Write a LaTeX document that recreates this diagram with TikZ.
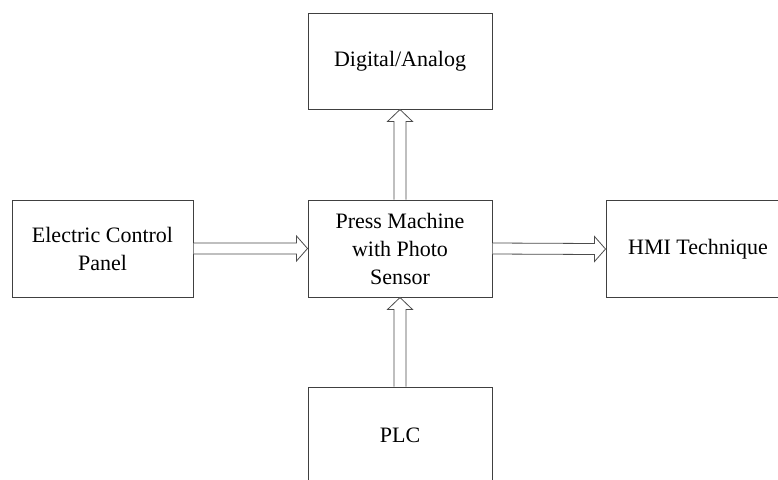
\documentclass[tikz,border=0pt]{standalone}
\usepackage{fontspec}
\setmainfont{Liberation Serif}
\usetikzlibrary{calc}
\tikzset{
  block/.style={draw=black!75, line width=1pt, fill=white, minimum width=184pt,
    minimum height=97pt, align=center, inner sep=0pt,
    font=\fontsize{22}{28}\selectfont},
  hollowarrow/.style={draw=black!70, line width=0.8pt, fill=white, line join=miter},
}
\newcommand{\rightconn}[2]{%
  \draw[hollowarrow] ($(#1.east)+(0,-5.5)$) -- ($(#2.west)+(-11,-5.5)$)
    -- ($(#2.west)+(-11,-12.5)$) -- (#2.west) -- ($(#2.west)+(-11,12.5)$)
    -- ($(#2.west)+(-11,5.5)$) -- ($(#1.east)+(0,5.5)$);}
\newcommand{\upconn}[2]{%
  \draw[hollowarrow] ($(#1.north)+(-6,0)$) -- ($(#2.south)+(-6,12)$)
    -- ($(#2.south)+(-12.5,12)$) -- (#2.south) -- ($(#2.south)+(12.5,12)$)
    -- ($(#2.south)+(6,12)$) -- ($(#1.north)+(6,0)$);}
\begin{document}
\begin{tikzpicture}[x=1pt,y=-1pt]
  \clip (0,0) rectangle (778,479);
  \fill[white] (0,0) rectangle (778,479);
  \node[block, minimum width=181pt] (ecp) at (102.5,248.5) {Electric Control\\Panel};
  \node[block] (press) at (400,248.5) {Press Machine\\with Photo\\Sensor};
  \node[block, minimum height=96pt] (da) at (400,61) {Digital/Analog};
  \node[block] (hmi) at (698,249) {HMI Technique};
  \node[block] (plc) at (400,435.5) {PLC};
  \rightconn{ecp}{press}
  \rightconn{press}{hmi}
  \upconn{press}{da}
  \upconn{plc}{press}
\end{tikzpicture}
\end{document}
